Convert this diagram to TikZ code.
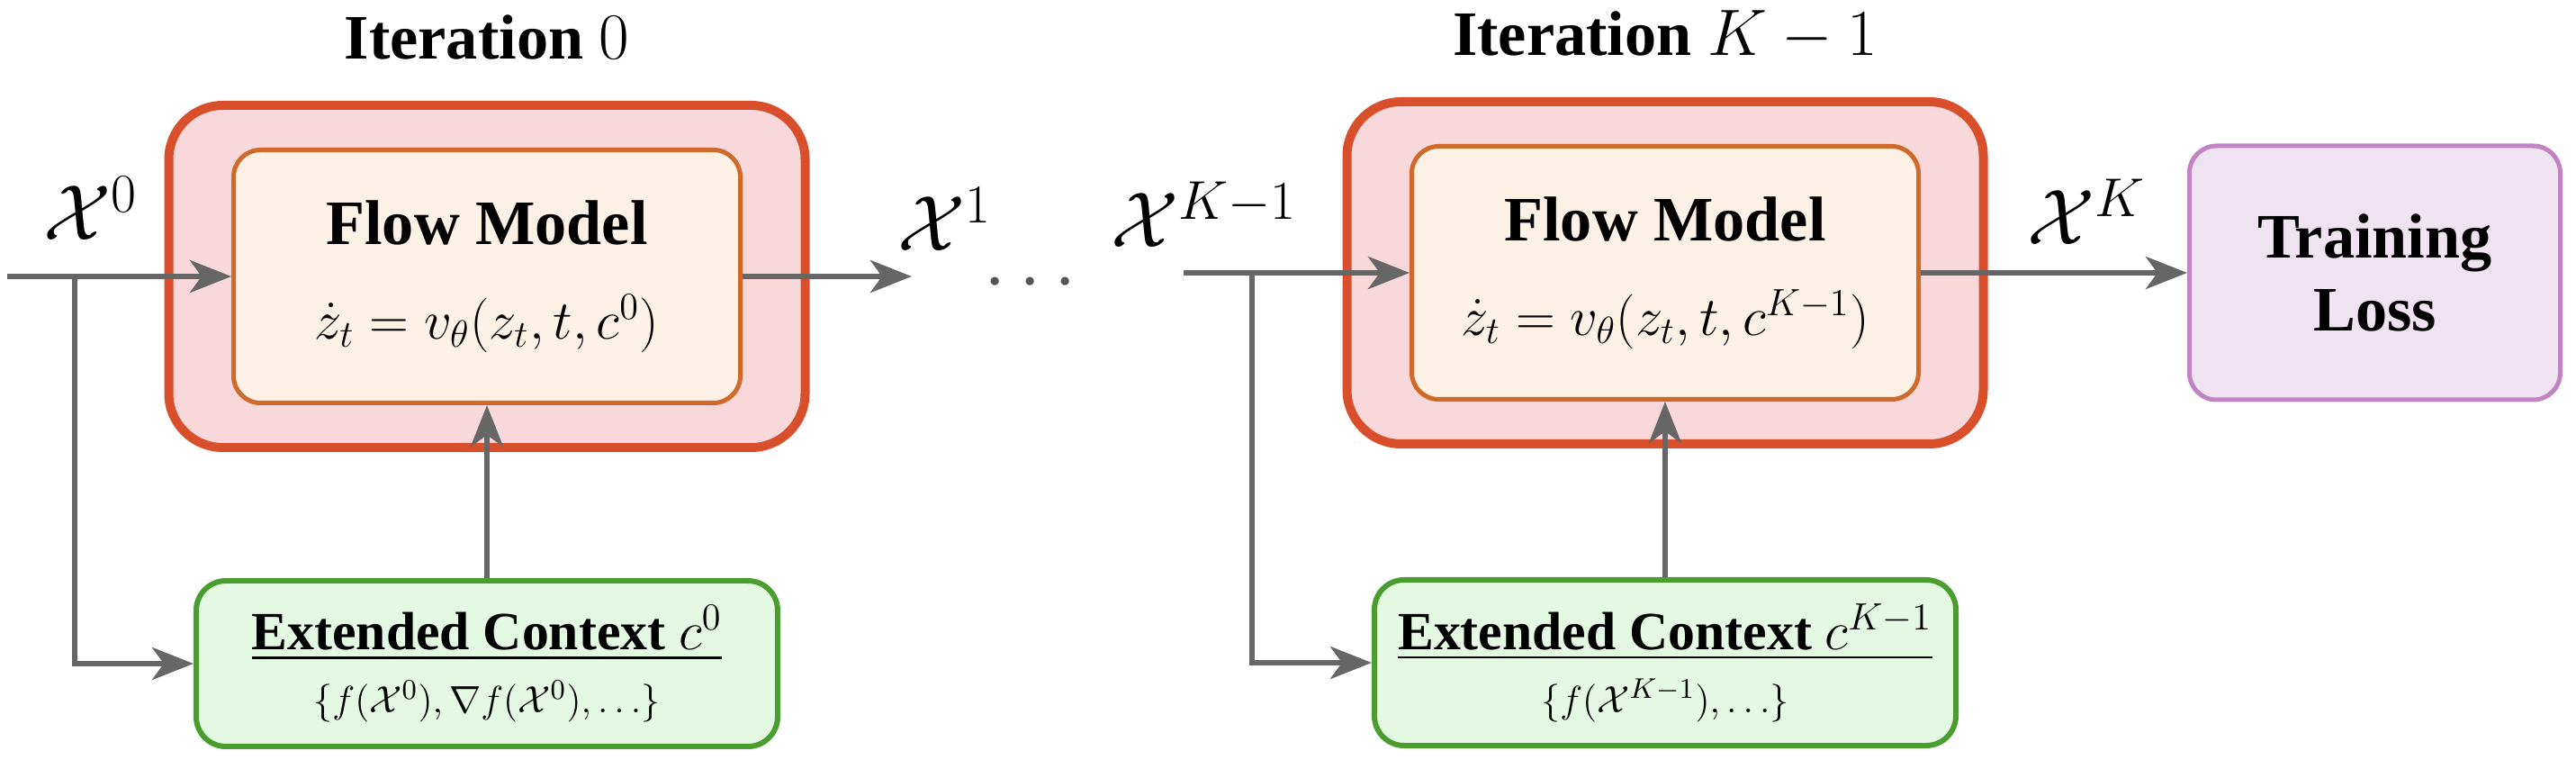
\documentclass[tikz,border=0pt]{standalone}
\usepackage{amsmath}
\usepackage[no-math]{fontspec}
\setmainfont{Liberation Serif}
\usetikzlibrary{arrows.meta,positioning,calc,fit,backgrounds}
\definecolor{iteredge}{HTML}{D94F2B}
\definecolor{iterfill}{HTML}{F8D8DA}
\definecolor{flowedge}{HTML}{D06A2A}
\definecolor{flowfill}{HTML}{FDF0E5}
\definecolor{ctxedge}{HTML}{4A9D2F}
\definecolor{ctxfill}{HTML}{E4F9E2}
\definecolor{lossedge}{HTML}{C183C3}
\definecolor{lossfill}{HTML}{F0E3F1}
\definecolor{arrowgray}{HTML}{666666}
\definecolor{dotgray}{HTML}{555555}

\begin{document}
\begin{tikzpicture}[
        flow/.style={draw=flowedge, fill=flowfill, line width=0.05cm, rounded corners=0.3cm, minimum width=5.63cm, minimum height=2.81cm, align=center, font=\fontsize{16.5}{29.9}\selectfont},
        iter/.style={draw=iteredge, fill=iterfill, line width=0.1cm, rounded corners=0.6cm, inner xsep=0.695cm, inner ysep=0.47cm},
        ctx/.style={draw=ctxedge, fill=ctxfill, line width=0.06cm, rounded corners=0.33cm, minimum width=6.46cm, minimum height=1.84cm, align=center, font=\fontsize{13}{19.9}\selectfont},
        loss/.style={draw=lossedge, fill=lossfill, line width=0.05cm, rounded corners=0.3cm, minimum width=4.12cm, minimum height=2.82cm, align=center, font=\bfseries\fontsize{20}{23}\selectfont},
        flowarrow/.style={draw=arrowgray, line width=0.065cm, -{Stealth[length=0.46cm, width=0.36cm, inset=0.13cm]}},
        statelbl/.style={font=\fontsize{23}{26}\selectfont, inner sep=0pt, anchor=base},
        itertitle/.style={font=\bfseries\fontsize{20}{24}\selectfont, inner sep=0pt, anchor=base}
    ]
        \useasboundingbox (0,0) rectangle (28.62,8.54);

        \node[flow] (fm0) at (5.41,5.47) {{\bfseries\fontsize{20}{24}\selectfont Flow Model}\\$\dot{z}_t = v_\theta(z_t, t, c^0)$};
        \node[flow] (fmK) at (18.50,5.51) {{\bfseries\fontsize{20}{24}\selectfont Flow Model}\\$\dot{z}_t = v_\theta(z_t, t, c^{K-1})$};
        \begin{scope}[on background layer]
            \node[iter, fit=(fm0)] (it0) {};
            \node[iter, fit=(fmK)] (itK) {};
        \end{scope}
        \node[itertitle] (ttl0) at ([yshift=0.46cm]it0.north) {Iteration $0$};
        \node[itertitle] (ttlK) at ([yshift=0.46cm]itK.north) {Iteration $K-1$};

        \node[ctx] (ctx0) at (5.41,1.17) {{\fontsize{17}{20}\selectfont\underline{\textbf{Extended Context} $c^0$}}\\$\{f(\mathcal{X}^0), \nabla f(\mathcal{X}^0), \ldots\}$};
        \node[ctx] (ctxK) at (18.50,1.18) {{\fontsize{17}{20}\selectfont\underline{\textbf{Extended Context} $c^{K-1}$}}\\$\{f(\mathcal{X}^{K-1}), \ldots\}$};
        \node[loss] (loss) at (26.385,5.51) {Training\\Loss};

        \node[statelbl] (x0) at (1.01,5.87) {$\mathcal{X}^0$};
        \node[statelbl] (x1) at (10.50,5.75) {$\mathcal{X}^1$};
        \node[statelbl] (xK1) at (13.38,5.79) {$\mathcal{X}^{K-1}$};
        \node[statelbl] (xK) at (23.18,5.82) {$\mathcal{X}^K$};
        \node[font=\fontsize{28}{30}\selectfont, text=dotgray, inner sep=0pt] (dots) at (11.52,5.39) {$\cdots$};

        \coordinate (in0) at (0.08,5.47);
        \coordinate (br0) at (0.83,5.47);
        \coordinate (out0) at (10.13,5.47);
        \coordinate (inK) at (13.15,5.51);
        \coordinate (brK) at (13.91,5.51);

        \draw[flowarrow] (in0) -- (fm0.west);
        \draw[flowarrow] (br0) |- (ctx0.west);
        \draw[flowarrow] (ctx0.north) -- (fm0.south);
        \draw[flowarrow] (fm0.east) -- (out0);
        \draw[flowarrow] (inK) -- (fmK.west);
        \draw[flowarrow] (brK) |- (ctxK.west);
        \draw[flowarrow] (ctxK.north) -- (fmK.south);
        \draw[flowarrow] (fmK.east) -- (loss.west);
    \end{tikzpicture}
\end{document}
